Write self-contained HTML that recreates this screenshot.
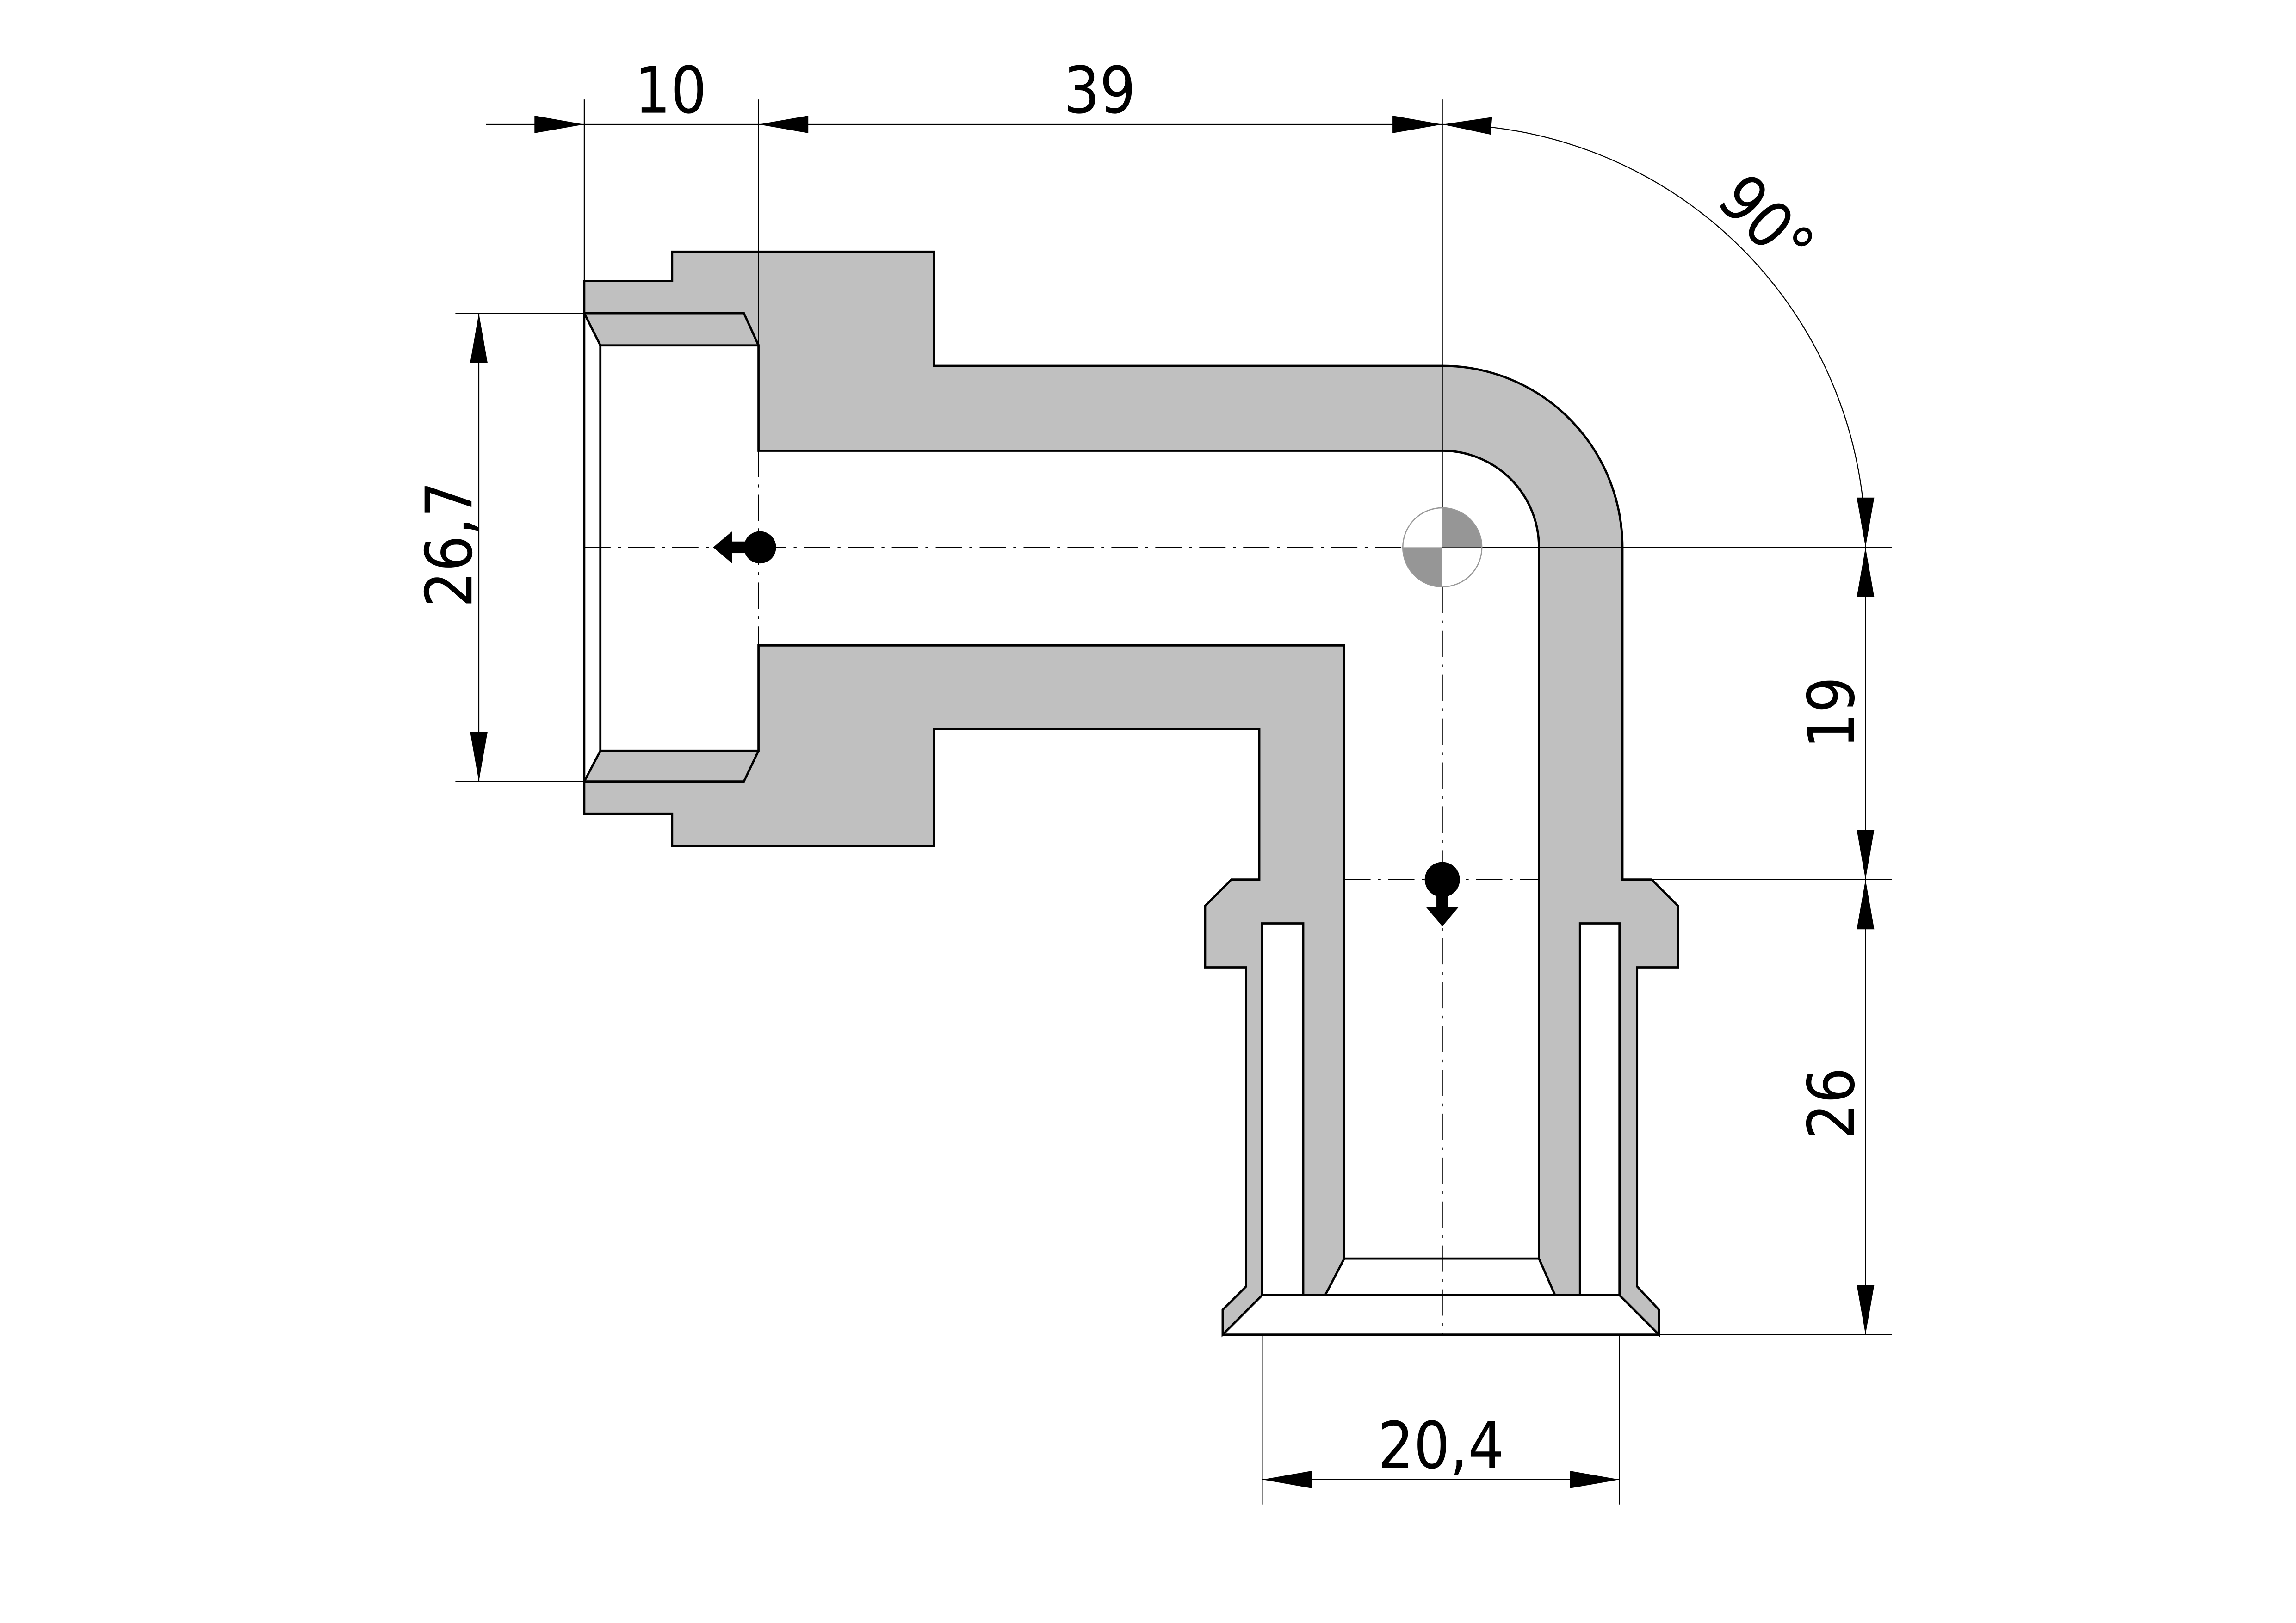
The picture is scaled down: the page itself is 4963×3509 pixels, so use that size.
<!DOCTYPE html>
<html><head><meta charset="utf-8"><style>html,body{margin:0;padding:0;background:#fff}svg{display:block}</style></head>
<body>
<svg xmlns="http://www.w3.org/2000/svg" width="4963" height="3509" viewBox="0 0 1568 1109" preserveAspectRatio="none">
<rect width="1568" height="1109" fill="#fff"/>
<g fill="#c0c0c0" stroke="#000" stroke-width="1.5" stroke-linejoin="miter">
<path d="M399,192 H459 V172 H638 V250 H985 A123,124 0 0 1 1108,374 V601 H1128 L1146,619 V661 H1118 V879 L1133,895 V912 L1106,885 V631 H1079 V885 H1062 L1051,860 V374 A66,66 0 0 0 985,308 H518 V236 H410 L399,214 Z"/>
<path d="M399,534 L410,513 H518 V441 H918 V860 L905,885 H890 V631 H862 V885 L835,912 V895 L851,879 V661 H823 V619 L841,601 H860 V498 H638 V578 H459 V556 H399 Z"/>
</g>
<g fill="none" stroke="#000" stroke-width="1.5">
<path d="M399,214 H508 L518,236"/>
<path d="M399,534 H508 L518,513"/>
<path d="M399,214 V534 M410,236 V513"/>
<path d="M862,885 H1106 M835,912 H1133 M918,860 H1051"/>
</g>
<g fill="none" stroke="#000" stroke-width="0.7">
<path d="M399,374 H958" stroke-dasharray="18,5,2,5"/>
<path d="M985,374 H1292"/>
<path d="M985,68 V374"/>
<path d="M985,401 V912" stroke-dasharray="18,5,2,5"/>
<path d="M918,601 H1051" stroke-dasharray="18,5,2,5"/>
<path d="M1108,601 H1292"/>
<path d="M518,68 V308"/>
<path d="M518,308 V441" stroke-dasharray="18,5,2,5"/>
<path d="M399,68 V192"/>
<path d="M332,85 H985"/>
<path d="M311,214 H399 M311,534 H399 M327,214 V534"/>
<path d="M1274,374 V912 M1133,912 H1292"/>
<path d="M862,912 V1028 M1106,912 V1028 M862,1011 H1106"/>
<path d="M985,85 A289,289 0 0 1 1274,374"/>
</g>
<g fill="#000">
<polygon points="399,85 365,79 365,91"/>
<polygon points="518,85 552,79 552,91"/>
<polygon points="985,85 951,79 951,91"/>
<polygon points="985,85 1019,80 1018,92"/>
<polygon points="1274,374 1268,340 1280,340"/>
<polygon points="1274,374 1268,408 1280,408"/>
<polygon points="1274,601 1268,567 1280,567"/>
<polygon points="1274,601 1268,635 1280,635"/>
<polygon points="1274,912 1268,878 1280,878"/>
<polygon points="327,214 321,248 333,248"/>
<polygon points="327,534 321,500 333,500"/>
<polygon points="862,1011 896,1005 896,1017"/>
<polygon points="1106,1011 1072,1005 1072,1017"/>
</g>
<g fill="#000">
<circle cx="519" cy="374" r="11"/>
<rect x="498" y="370" width="12" height="8"/>
<polygon points="487,374 500,363 500,385"/>
<circle cx="985" cy="601" r="12"/>
<rect x="981" y="605" width="8" height="16"/>
<polygon points="985,633 974,620 996,620"/>
</g>
<path d="M985,374 V347 A27,27 0 0 1 1012,374 Z" fill="#969696"/>
<path d="M985,374 V401 A27,27 0 0 1 958,374 Z" fill="#969696"/>
<circle cx="985" cy="374" r="27" fill="none" stroke="#999" stroke-width="0.8"/>
<g font-family="'DejaVu Sans','Liberation Sans',sans-serif" font-size="44" fill="#000" text-anchor="middle">
<text x="458" y="77" transform="translate(458,0) scale(0.88,1) translate(-458,0)">10</text>
<text x="751" y="77" transform="translate(751,0) scale(0.88,1) translate(-751,0)">39</text>
<text x="984" y="1003" transform="translate(984,0) scale(0.88,1) translate(-984,0)">20,4</text>
<text transform="translate(1206,152) rotate(45) scale(0.88,1)" x="0" y="15">90°</text>
<text transform="translate(1266,487) rotate(-90) scale(0.88,1)" x="0" y="0">19</text>
<text transform="translate(1266,754) rotate(-90) scale(0.88,1)" x="0" y="0">26</text>
<text transform="translate(322,372) rotate(-90) scale(0.88,1)" x="0" y="0">26,7</text>
</g>
</svg>
</body></html>
